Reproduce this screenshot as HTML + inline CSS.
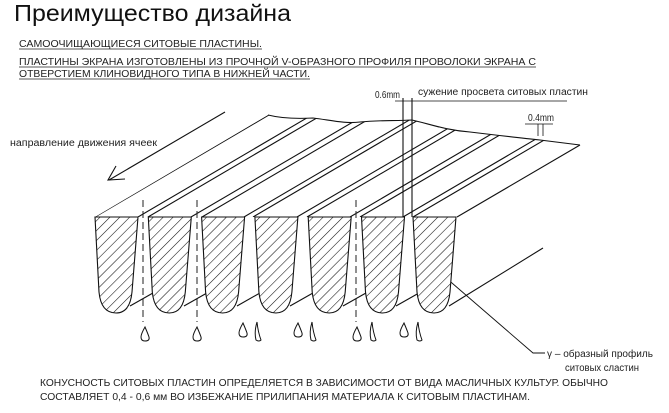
<!DOCTYPE html>
<html><head><meta charset="utf-8"><style>
html,body{margin:0;padding:0;background:#fff;}
svg{display:block;font-family:"Liberation Sans","DejaVu Sans",sans-serif;}
</style></head><body>
<svg width="669" height="413" viewBox="0 0 669 413" xmlns="http://www.w3.org/2000/svg">
<defs>
<pattern id="h" patternUnits="userSpaceOnUse" width="7" height="7" patternTransform="rotate(45)">
<rect width="7" height="7" fill="#fff"/>
<line x1="0" y1="0" x2="0" y2="7" stroke="#111" stroke-width="1.1"/>
</pattern>
<clipPath id="top"><path d="M95,217 L268,115 C280,118 295,119 313,118 C330,120 345,124 360,122 C380,120 395,121 412,120 C430,124 445,130 470,132 C495,135 520,138 540,140 L580,145 L457,217 Z"/></clipPath>
</defs>
<rect width="669" height="413" fill="#fff"/>
<text x="14" y="21" font-size="23" textLength="277" lengthAdjust="spacingAndGlyphs" fill="#111">Преимущество дизайна</text>
<g font-size="10" fill="#222" lengthAdjust="spacingAndGlyphs">
<text x="19" y="47" textLength="243" lengthAdjust="spacingAndGlyphs">САМООЧИЩАЮЩИЕСЯ СИТОВЫЕ  ПЛАСТИНЫ.</text>
<text x="19" y="65" textLength="517" lengthAdjust="spacingAndGlyphs">ПЛАСТИНЫ ЭКРАНА ИЗГОТОВЛЕНЫ ИЗ ПРОЧНОЙ  V-ОБРАЗНОГО ПРОФИЛЯ ПРОВОЛОКИ ЭКРАНА С</text>
<text x="19" y="77" textLength="291" lengthAdjust="spacingAndGlyphs">ОТВЕРСТИЕМ КЛИНОВИДНОГО ТИПА В НИЖНЕЙ ЧАСТИ.</text>
</g>
<g stroke="#222" stroke-width="0.7">
<line x1="19" y1="49" x2="262" y2="49"/><line x1="19" y1="67" x2="536" y2="67"/><line x1="19" y1="79" x2="310" y2="79"/>
</g>
<text x="10" y="146" font-size="10" fill="#222" textLength="147" lengthAdjust="spacingAndGlyphs">направление движения ячеек</text>
<g stroke="#111" stroke-width="1.1" fill="none">
<line x1="225" y1="112" x2="109" y2="180"/><polyline points="116,166 108,180 125,179"/>
<path d="M268,115 C280,118 295,119 313,118 C330,120 345,124 360,122 C380,120 395,121 412,120 C430,124 445,130 470,132 C495,135 520,138 540,140 L580,145"/>
<line x1="580" y1="145" x2="457" y2="217"/>
<g clip-path="url(#top)">
<line x1="95" y1="217" x2="395" y2="41"/>
<line x1="138" y1="217" x2="438" y2="41"/><line x1="148" y1="217" x2="448" y2="41"/>
<line x1="191" y1="217" x2="491" y2="41"/><line x1="202" y1="217" x2="502" y2="41"/>
<line x1="244" y1="217" x2="544" y2="41"/><line x1="253" y1="217" x2="553" y2="41"/>
<line x1="297" y1="217" x2="597" y2="41"/><line x1="307" y1="217" x2="607" y2="41"/>
<line x1="350" y1="217" x2="650" y2="41"/><line x1="360" y1="217" x2="660" y2="41"/>
<line x1="403" y1="217" x2="703" y2="41"/><line x1="413" y1="217" x2="713" y2="41"/>
</g>
<line x1="130" y1="306" x2="160" y2="289"/><line x1="184" y1="306" x2="214" y2="289"/>
<line x1="237" y1="306" x2="267" y2="289"/><line x1="290" y1="306" x2="320" y2="289"/>
<line x1="343" y1="306" x2="373" y2="289"/><line x1="396" y1="306" x2="426" y2="289"/>
<line x1="449" y1="306" x2="543" y2="248"/>
<line x1="403" y1="98" x2="403" y2="217"/><line x1="412" y1="98" x2="412" y2="217"/>
<line x1="395" y1="101" x2="567" y2="101" stroke-width="0.8"/>
<line x1="525" y1="124" x2="553" y2="124" stroke-width="0.8"/>
<line x1="538" y1="124" x2="538" y2="136" stroke-width="0.8"/><line x1="543" y1="124" x2="543" y2="136" stroke-width="0.8"/>
<polyline points="445,277 533,353 545,353" stroke-width="0.9"/>
</g>
<g stroke="#111" stroke-width="1.1" fill="url(#h)">
<path id="p" d="M95,217 L138,217 L132,292 Q130,313 116,313 Q101,313 99,292 Z"/>
<use href="#p" x="53.3"/><use href="#p" x="106.6"/><use href="#p" x="159.9"/><use href="#p" x="213.2"/><use href="#p" x="266.5"/><use href="#p" x="318"/>
</g>
<g stroke="#222" stroke-width="1" stroke-dasharray="7,4">
<line x1="143" y1="200" x2="143" y2="322"/><line x1="197" y1="200" x2="197" y2="322"/><line x1="356" y1="200" x2="356" y2="322"/>
</g>
<g stroke="#111" stroke-width="1" fill="none">
<path id="d" d="M0,0 Q-4,7 -4,10 Q-4,14 0,14 Q5,14 4,10 Q3,7 0,0 Z" transform="translate(145,327)"/>
<use href="#d" x="52" y="0"/><use href="#d" x="98" y="-4"/><use href="#d" x="153" y="-4"/><use href="#d" x="212" y="0"/><use href="#d" x="259" y="-4"/>
<path id="l" d="M0,0 Q-3,10 -1,18 Q2,20 4,18 Q1,10 0,0 Z" transform="translate(257,322)"/>
<use href="#l" x="55"/><use href="#l" x="115"/><use href="#l" x="161"/>
</g>
<g font-size="10" fill="#222">
<text x="375" y="98" textLength="25" lengthAdjust="spacingAndGlyphs">0.6mm</text>
<text x="418" y="95" textLength="170" lengthAdjust="spacingAndGlyphs">сужение просвета ситовых пластин</text>
<text x="528" y="121" textLength="26" lengthAdjust="spacingAndGlyphs">0.4mm</text>
<text x="547" y="357" textLength="106" lengthAdjust="spacingAndGlyphs">γ  – образный профиль</text>
<text x="565" y="371" textLength="74" lengthAdjust="spacingAndGlyphs">ситовых сластин</text>
<text x="40" y="386" font-size="10.5" textLength="568" lengthAdjust="spacingAndGlyphs">КОНУСНОСТЬ СИТОВЫХ  ПЛАСТИН ОПРЕДЕЛЯЕТСЯ В ЗАВИСИМОСТИ ОТ ВИДА МАСЛИЧНЫХ КУЛЬТУР.  ОБЫЧНО</text>
<text x="40" y="400" font-size="10.5" textLength="490" lengthAdjust="spacingAndGlyphs">СОСТАВЛЯЕТ 0,4 - 0,6 мм ВО ИЗБЕЖАНИЕ ПРИЛИПАНИЯ МАТЕРИАЛА К СИТОВЫМ ПЛАСТИНАМ.</text>
</g>
</svg>
</body></html>
